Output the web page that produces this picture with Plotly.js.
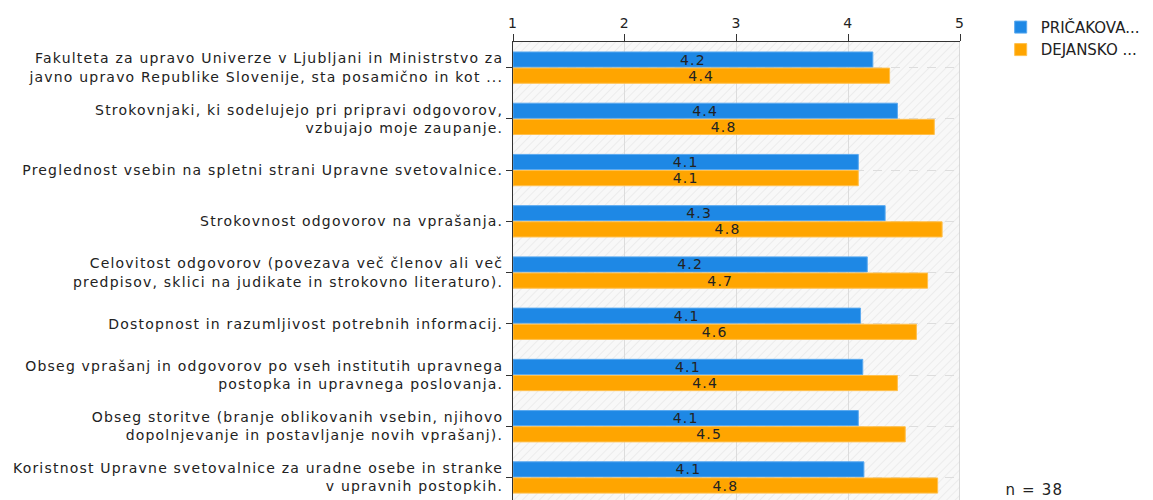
<!DOCTYPE html>
<html><head><meta charset="utf-8">
<script src="https://cdn.plot.ly/plotly-3.0.1.min.js"></script>
<style>html,body{margin:0;padding:0;background:#fff;}#chart{width:1153px;height:500px;}
#chart svg text{letter-spacing:1.2px;}
#chart svg text.legendtext{letter-spacing:0;}</style>
</head><body><div id="chart"></div>
<script>
const categories = [
  "Fakulteta za upravo Univerze v Ljubljani in Ministrstvo za<br>javno upravo Republike Slovenije, sta posamično in kot ...",
  "Strokovnjaki, ki sodelujejo pri pripravi odgovorov,<br>vzbujajo moje zaupanje.",
  "Preglednost vsebin na spletni strani Upravne svetovalnice.",
  "Strokovnost odgovorov na vprašanja.",
  "Celovitost odgovorov (povezava več členov ali več<br>predpisov, sklici na judikate in strokovno literaturo).",
  "Dostopnost in razumljivost potrebnih informacij.",
  "Obseg vprašanj in odgovorov po vseh institutih upravnega<br>postopka in upravnega poslovanja.",
  "Obseg storitve (branje oblikovanih vsebin, njihovo<br>dopolnjevanje in postavljanje novih vprašanj).",
  "Koristnost Upravne svetovalnice za uradne osebe in stranke<br>v upravnih postopkih."
];
const expected = [4.22, 4.44, 4.09, 4.33, 4.17, 4.11, 4.13, 4.09, 4.14];
const actual   = [4.37, 4.77, 4.09, 4.84, 4.71, 4.61, 4.44, 4.51, 4.80];
const seriesNames = ["PRIČAKOVA...", "DEJANSKO ..."];
const xTicks = [1, 2, 3, 4, 5];
const sampleNote = "n = 38";

const FONT = "DejaVu Sans, Verdana, sans-serif";

function mk(vals, name, color, line) {
  return {
    type: 'bar', orientation: 'h', x: vals.map(v => v - 1), y: categories, name: name,
    base: 1,
    marker: {color: color, line: {color: line, width: 1}},
    text: vals.map(v => v.toFixed(1)), textposition: 'inside', insidetextanchor: 'middle',
    textfont: {family: FONT, size: 14, color: '#222'},
    constraintext: 'none', cliponaxis: false, hoverinfo: 'skip'
  };
}
const t1 = mk(expected, seriesNames[0], '#1e88e5', '#5aa9ef');
const t2 = mk(actual, seriesNames[1], '#ffa500', '#ffc04d');

const svg = '<svg xmlns="http://www.w3.org/2000/svg" width="447" height="458" preserveAspectRatio="none">' +
  '<defs><pattern id="h" width="6" height="6" patternUnits="userSpaceOnUse" patternTransform="rotate(45)">' +
  '<rect width="6" height="6" fill="#f8f8f8"/><line x1="0" y1="0" x2="0" y2="6" stroke="#e8e8e8" stroke-width="1.5"/></pattern></defs>' +
  '<rect width="447" height="458" fill="url(#h)"/></svg>';

const layout = {
  width: 1153, height: 500,
  margin: {l: 513, r: 193, t: 42, b: 0, pad: 0},
  paper_bgcolor: '#fff', plot_bgcolor: '#f8f8f8',
  font: {family: FONT, size: 14, color: '#222'},
  barmode: 'group', bargap: 0.37, bargroupgap: 0.06,
  showlegend: true,
  legend: {x: 1.091, y: 1.068, xanchor: 'left', yanchor: 'top', font: {family: FONT, size: 15, color: '#222'},
           tracegroupgap: 0, itemwidth: 30, bgcolor: 'rgba(0,0,0,0)'},
  xaxis: {
    side: 'top', range: [1, 5], tickvals: xTicks, ticktext: xTicks.map(String),
    showline: true, linecolor: '#333', linewidth: 1, ticks: 'outside', ticklen: 7, tickcolor: '#333',
    showgrid: true, gridcolor: '#dcdcdc', gridwidth: 1, zeroline: false,
    tickfont: {family: FONT, size: 14, color: '#222'}, fixedrange: true
  },
  yaxis: {
    type: 'category', range: [8.44, -0.5],
    showline: true, linecolor: '#333', linewidth: 1, ticks: 'outside', ticklen: 6, tickcolor: '#333',
    showgrid: true, gridcolor: '#dddddd', griddash: 'dash', gridwidth: 1,
    tickfont: {family: FONT, size: 14, color: '#222'}, automargin: false, fixedrange: true
  },
  shapes: [
    {type: 'line', xref: 'x', yref: 'paper', x0: 5, x1: 5, y0: 0, y1: 1, line: {color: '#cfcfcf', width: 1.5}, layer: 'below'}
  ],
  images: [{
    source: 'data:image/svg+xml;base64,' + btoa(svg),
    xref: 'paper', yref: 'paper', x: 0, y: 1, sizex: 1, sizey: 1,
    xanchor: 'left', yanchor: 'top', sizing: 'stretch', layer: 'below'
  }],
  annotations: [{
    text: sampleNote, xref: 'paper', yref: 'paper', x: 1.105, y: 0.022, xanchor: 'left', yanchor: 'middle',
    showarrow: false, font: {family: FONT, size: 15, color: '#222'}
  }]
};

Plotly.newPlot('chart', [t1, t2], layout, {displayModeBar: false, staticPlot: true});
</script></body></html>
